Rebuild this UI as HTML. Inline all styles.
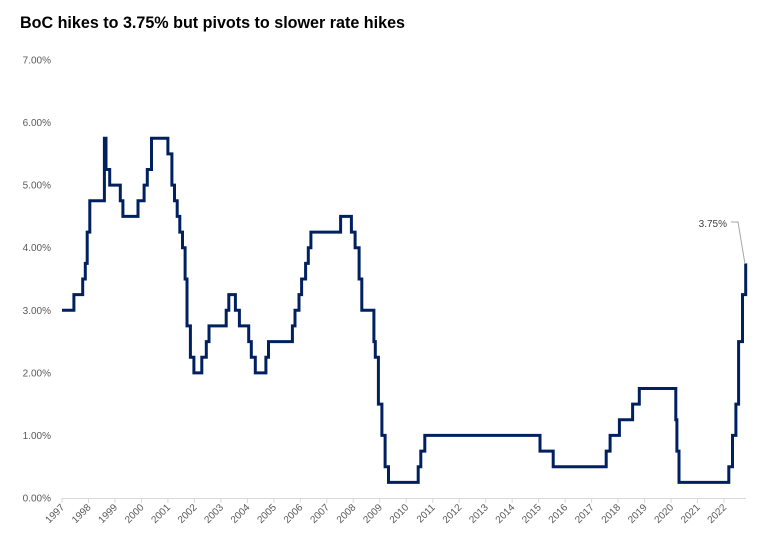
<!DOCTYPE html>
<html><head><meta charset="utf-8"><style>
html,body{margin:0;padding:0;background:#fff;}
svg{display:block;font-family:"Liberation Sans",sans-serif;}
</style></head><body>
<svg id="c" width="766" height="549" viewBox="0 0 766 549">
<text x="20" y="28" font-size="17" font-weight="bold" fill="#000" textLength="385" lengthAdjust="spacingAndGlyphs">BoC hikes to 3.75% but pivots to slower rate hikes</text>
<g id="yl" font-size="10" fill="#595959" text-anchor="end"></g>
<line x1="62" y1="498.5" x2="746" y2="498.5" stroke="#d9d9d9" stroke-width="1"/>
<g id="xt"></g>
<path id="ln" fill="none" stroke="#002060" stroke-width="3" stroke-linejoin="miter"/>
<polyline points="731,222 738,222 745,264" fill="none" stroke="#a6a6a6" stroke-width="1"/>
<text x="727" y="227" font-size="10" fill="#404040" text-anchor="end">3.75%</text>
</svg>
<script>
var NS="http://www.w3.org/2000/svg";
function X(y){return 62+(y-1997)*26.48;}
function Y(v){return 498-v*62.57;}
var yl=document.getElementById('yl');
for(var i=0;i<=7;i++){var t=document.createElementNS(NS,'text');t.setAttribute('x',51);t.setAttribute('y',Y(i)+3.5);t.textContent=i+'.00%';yl.appendChild(t);}
var xt=document.getElementById('xt');
for(var y=1997;y<=2022;y++){var x=X(y);
var l=document.createElementNS(NS,'line');l.setAttribute('x1',x);l.setAttribute('x2',x);l.setAttribute('y1',498);l.setAttribute('y2',503);l.setAttribute('stroke','#d9d9d9');xt.appendChild(l);
var t=document.createElementNS(NS,'text');t.setAttribute('font-size','10');t.setAttribute('fill','#595959');t.setAttribute('text-anchor','end');
t.setAttribute('transform','translate('+(x+3)+',508) rotate(-45)');t.textContent=y;xt.appendChild(t);}
var d=[[1997,3],[1997.45,3.25],[1997.78,3.5],[1997.88,3.75],[1997.95,4.25],[1998.05,4.75],[1998.6,5.75],[1998.66,5.25],[1998.8,5],[1999.2,4.75],[1999.3,4.5],[1999.87,4.75],[2000.1,5],[2000.22,5.25],[2000.38,5.75],[2001.0,5.5],[2001.15,5],[2001.25,4.75],[2001.35,4.5],[2001.45,4.25],[2001.55,4],[2001.65,3.5],[2001.72,2.75],[2001.85,2.25],[2001.98,2],[2002.28,2.25],[2002.45,2.5],[2002.55,2.75],[2003.2,3],[2003.3,3.25],[2003.55,3],[2003.7,2.75],[2004.05,2.5],[2004.15,2.25],[2004.3,2],[2004.7,2.25],[2004.8,2.5],[2005.7,2.75],[2005.8,3],[2005.95,3.25],[2006.05,3.5],[2006.2,3.75],[2006.3,4],[2006.4,4.25],[2007.52,4.5],[2007.93,4.25],[2008.07,4],[2008.22,3.5],[2008.32,3],[2008.78,2.5],[2008.83,2.25],[2008.95,1.5],[2009.08,1],[2009.2,0.5],[2009.33,0.25],[2010.45,0.5],[2010.55,0.75],[2010.7,1],[2015.05,0.75],[2015.55,0.5],[2017.55,0.75],[2017.7,1],[2018.05,1.25],[2018.55,1.5],[2018.8,1.75],[2020.18,1.25],[2020.22,0.75],[2020.3,0.25],[2022.18,0.5],[2022.32,1],[2022.45,1.5],[2022.55,2.5],[2022.7,3.25],[2022.82,3.75]];
var p='M'+X(d[0][0])+' '+Y(d[0][1]);
for(var i=1;i<d.length;i++){p+=' H'+X(d[i][0]).toFixed(1)+' V'+Y(d[i][1]).toFixed(1);}
document.getElementById('ln').setAttribute('d',p);
</script>
</body></html>
